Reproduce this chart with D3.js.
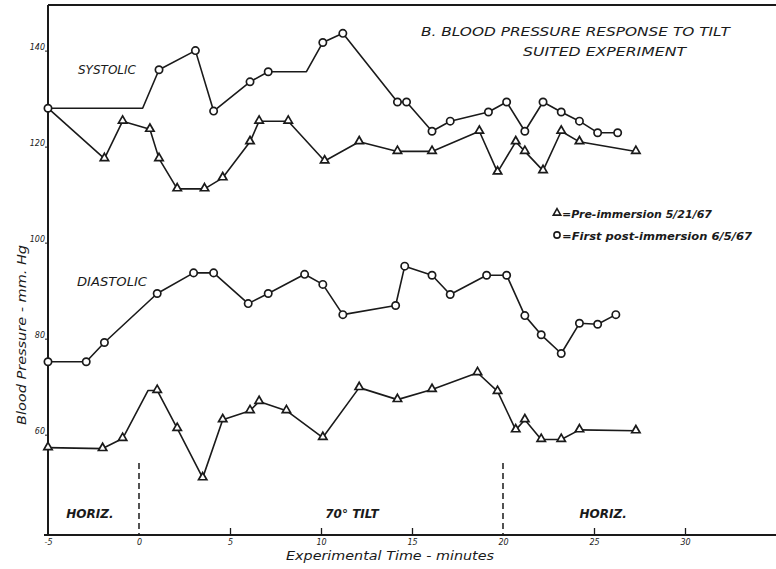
<!DOCTYPE html>
<html>
<head>
<meta charset="utf-8">
<script src="https://cdn.jsdelivr.net/npm/d3@7"></script>
<style>
  html, body { margin: 0; padding: 0; background: #fff; }
  svg { display: block; }
  text { font-family: "DejaVu Sans", sans-serif; font-style: italic; fill: #1a1a1a; }
</style>
</head>
<body>
<svg id="chart" width="776" height="569"></svg>
<script>
// ---- Data ----
const xTicks = [-5, 0, 5, 10, 15, 20, 25, 30];
const yTicks = [60, 80, 100, 120, 140];

// Systolic, first post-immersion (circles)
const sysPostT = [-5, 0.2, 1.1, 3.1, 4.1, 6.1, 7.1, 9.2, 10.1, 11.2, 14.2, 14.7, 16.1, 17.1, 19.2, 20.2, 21.2, 22.2, 23.2, 24.2, 25.2, 26.3];
const sysPostV = [128, 128, 136, 140, 127.4, 133.5, 135.6, 135.6, 141.7, 143.6, 129.3, 129.3, 123.2, 125.3, 127.2, 129.3, 123.2, 129.3, 127.2, 125.3, 122.9, 122.9];
const sysPostMark = [1, 0, 1, 1, 1, 1, 1, 0, 1, 1, 1, 1, 1, 1, 1, 1, 1, 1, 1, 1, 1, 1];

// Systolic, pre-immersion (triangles)
const sysPreT = [-5, -1.9, -0.9, 0.6, 1.1, 2.1, 3.6, 4.6, 6.1, 6.6, 8.2, 10.2, 12.1, 14.2, 16.1, 18.7, 19.7, 20.7, 21.2, 22.2, 23.2, 24.2, 27.3];
const sysPreV = [128, 117.5, 125.3, 123.6, 117.5, 111.2, 111.2, 113.5, 121, 125.3, 125.3, 117, 121, 119, 119, 123.2, 114.7, 121, 119, 115, 123.2, 121, 119];
const sysPreMark = [0, 1, 1, 1, 1, 1, 1, 1, 1, 1, 1, 1, 1, 1, 1, 1, 1, 1, 1, 1, 1, 1, 1];

// Diastolic, first post-immersion (circles)
const diaPostT = [-5, -2.9, -1.9, 1.0, 3.0, 4.1, 6.0, 7.1, 9.1, 10.1, 11.2, 14.1, 14.6, 16.1, 17.1, 19.1, 20.2, 21.2, 22.1, 23.2, 24.2, 25.2, 26.2];
const diaPostV = [75.2, 75.2, 79.2, 89.4, 93.7, 93.7, 87.3, 89.4, 93.4, 91.3, 85.0, 86.9, 95.1, 93.2, 89.2, 93.2, 93.2, 84.8, 80.8, 76.9, 83.2, 83.0, 85.0];
const diaPostMark = diaPostT.map(() => 1);

// Diastolic, pre-immersion (triangles)
const diaPreT = [-5, -2.0, -0.9, 0.5, 1.0, 2.1, 3.5, 4.6, 6.1, 6.6, 8.1, 10.1, 12.1, 14.2, 16.1, 18.6, 19.7, 20.7, 21.2, 22.1, 23.2, 24.2, 27.3];
const diaPreV = [57.3, 57.1, 59.2, 69.2, 69.2, 61.3, 51.0, 63.1, 65.0, 66.9, 65.0, 59.4, 69.8, 67.3, 69.4, 72.9, 69.0, 61.0, 63.1, 59.0, 59.0, 61.0, 60.8];
const diaPreMark = [1, 1, 1, 0, 1, 1, 1, 1, 1, 1, 1, 1, 1, 1, 1, 1, 1, 1, 1, 1, 1, 1, 1];

const phaseLines = [0, 20];
const phaseLabels = ["HORIZ.", "70° TILT", "HORIZ."];
const phaseLabelT = [-2.7, 11.7, 25.5];

const titleLines = ["B.  BLOOD PRESSURE RESPONSE TO TILT", "SUITED EXPERIMENT"];
const legendLabels = ["=Pre-immersion 5/21/67", "=First post-immersion 6/5/67"];

// ---- Chart ----
(function draw() {
const W = 776, H = 569;
const ink = "#1a1a1a";
const svg = d3.select("#chart");

const x = d3.scaleLinear().domain([-5, 35]).range([48, 776]);
const y = d3.scaleLinear().domain([39.1, 149.5]).range([535, 5]);

const xL = x(-5), yB = y(39.1), yT = y(149.5);

// frame: top line, left axis, bottom axis
svg.append("line").attr("x1", xL).attr("x2", W).attr("y1", yT).attr("y2", yT)
  .attr("stroke", ink).attr("stroke-width", 2);
svg.append("line").attr("x1", xL).attr("x2", xL).attr("y1", yT).attr("y2", yB)
  .attr("stroke", ink).attr("stroke-width", 2);
svg.append("line").attr("x1", xL - 4).attr("x2", W).attr("y1", yB).attr("y2", yB)
  .attr("stroke", ink).attr("stroke-width", 2);

// x axis
const xAxis = d3.axisBottom(x).tickValues(xTicks).tickSizeInner(-7).tickSizeOuter(0)
  .tickFormat(d => d);
const gx = svg.append("g").attr("transform", `translate(0,${yB})`).call(xAxis);
gx.select(".domain").remove();
gx.selectAll(".tick line").attr("stroke", ink).attr("stroke-width", 1.3)
  .attr("opacity", d => (d === -5 || d === 0 || d === 20) ? 0 : 1);
gx.selectAll(".tick text").attr("y", 4).attr("font-size", 8).attr("fill", "#333")
  .style("font-family", "DejaVu Sans").style("font-style", "italic");

// y axis
const yAxis = d3.axisLeft(y).tickValues(yTicks).tickSizeInner(3).tickSizeOuter(0);
const gy = svg.append("g").attr("transform", `translate(${xL},0)`).call(yAxis);
gy.select(".domain").remove();
gy.selectAll(".tick line").attr("stroke", ink).attr("stroke-width", 1);
gy.selectAll(".tick text").attr("x", -3).attr("dy", "-0.1em").attr("font-size", 8).attr("fill", "#333")
  .style("font-family", "DejaVu Sans").style("font-style", "italic");

// phase dashed lines
svg.selectAll(".phase").data(phaseLines).enter().append("line")
  .attr("x1", d => x(d)).attr("x2", d => x(d))
  .attr("y1", 463).attr("y2", yB)
  .attr("stroke", ink).attr("stroke-width", 1.5).attr("stroke-dasharray", "6,4");

// phase labels
svg.selectAll(".plab").data(phaseLabels).enter().append("text")
  .attr("x", (d, i) => x(phaseLabelT[i])).attr("y", 518)
  .attr("text-anchor", "middle").attr("font-size", 12).attr("font-weight", "bold")
  .text(d => d);

// series drawing
const line = d3.line().x(d => x(d.t)).y(d => y(d.v));
function series(T, V, M, shape) {
  const pts = T.map((t, i) => ({ t, v: V[i], m: M[i] }));
  svg.append("path").datum(pts).attr("d", line)
    .attr("fill", "none").attr("stroke", ink).attr("stroke-width", 1.6)
    .attr("stroke-linejoin", "round");
  const sym = d3.symbol().type(shape === "c" ? d3.symbolCircle : d3.symbolTriangle)
    .size(shape === "c" ? 42 : 30);
  svg.append("g").selectAll("path").data(pts.filter(p => p.m)).enter().append("path")
    .attr("d", sym)
    .attr("transform", p => `translate(${x(p.t)},${y(p.v) + (shape === "c" ? 0 : -0.5)})`)
    .attr("fill", "#fff").attr("stroke", ink).attr("stroke-width", 1.7);
}
series(sysPreT, sysPreV, sysPreMark, "t");
series(sysPostT, sysPostV, sysPostMark, "c");
series(diaPreT, diaPreV, diaPreMark, "t");
series(diaPostT, diaPostV, diaPostMark, "c");

// section labels
svg.append("text").attr("x", 78).attr("y", 74).attr("font-size", 12)
  .attr("textLength", 58).attr("lengthAdjust", "spacingAndGlyphs").text("SYSTOLIC");
svg.append("text").attr("x", 77).attr("y", 286).attr("font-size", 12)
  .attr("textLength", 70).attr("lengthAdjust", "spacingAndGlyphs").text("DIASTOLIC");

// title
svg.append("text").attr("x", 421).attr("y", 36).attr("font-size", 12)
  .attr("textLength", 309).attr("lengthAdjust", "spacingAndGlyphs").text(titleLines[0]);
svg.append("text").attr("x", 523).attr("y", 56).attr("font-size", 12)
  .attr("textLength", 163).attr("lengthAdjust", "spacingAndGlyphs").text(titleLines[1]);

// legend
const legShapes = [d3.symbolTriangle, d3.symbolCircle];
const legY = [214, 236];
legendLabels.forEach((lab, i) => {
  svg.append("path").attr("d", d3.symbol().type(legShapes[i]).size(i ? 30 : 24)())
    .attr("transform", `translate(557,${legY[i] - 1})`)
    .attr("fill", "#fff").attr("stroke", ink).attr("stroke-width", 1.6);
  svg.append("text").attr("x", 562).attr("y", legY[i] + 4).attr("font-size", 11)
    .attr("font-weight", "bold")
    .attr("textLength", i ? 190 : 150).attr("lengthAdjust", "spacingAndGlyphs").text(lab);
});

// axis titles
svg.append("text").attr("x", 390).attr("y", 560).attr("text-anchor", "middle")
  .attr("font-size", 12).attr("textLength", 208).attr("lengthAdjust", "spacingAndGlyphs")
  .text("Experimental  Time - minutes");
svg.append("text").attr("transform", "translate(26,335) rotate(-90)")
  .attr("text-anchor", "middle").attr("font-size", 13)
  .attr("textLength", 180).attr("lengthAdjust", "spacingAndGlyphs")
  .text("Blood  Pressure - mm.  Hg");
})();
</script>
</body>
</html>
